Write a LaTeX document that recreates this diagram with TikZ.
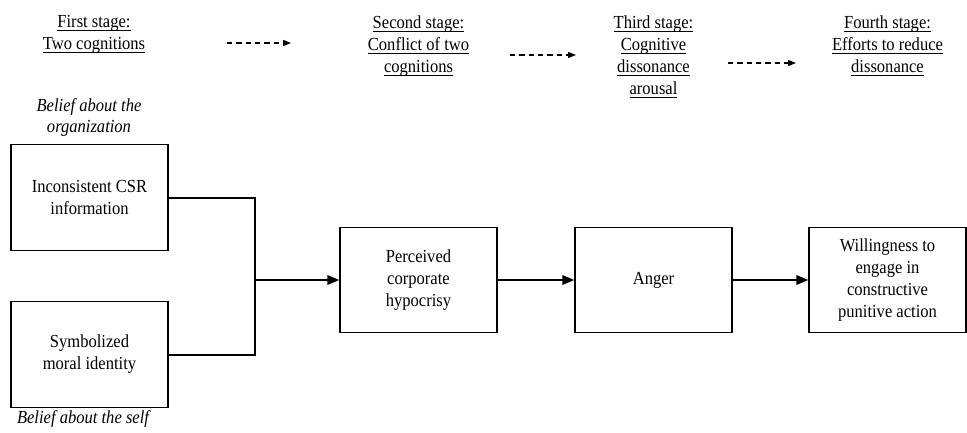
\documentclass[tikz,border=0pt]{standalone}
\usepackage{fontspec}
\setmainfont[FakeStretch=0.9]{Liberation Serif}
\usetikzlibrary{arrows.meta}

% underline at a fixed depth below the baseline
\newcommand{\uln}[1]{\setbox0\hbox{#1}\rlap{\rule[-2.6pt]{\wd0}{0.6pt}}\box0}

\begin{document}
\begin{tikzpicture}[x=0.75pt, y=-0.75pt, line join=miter,
    font=\fontsize{13.8}{16.5}\selectfont,
    box/.style={draw, line width=0.9pt, minimum width=117.75pt, minimum height=79pt,
        align=center, inner sep=2pt},
    stage/.style={anchor=north, align=center, inner sep=0pt},
    belief/.style={anchor=north, align=center, inner sep=0pt, font=\fontsize{13.8}{16}\selectfont\itshape},
    link/.style={line width=1.5pt, -{Triangle[length=9pt, width=7pt]}},
    flow/.style={line width=0.8pt, dash pattern=on 4pt off 3pt, -{Triangle[length=6pt, width=4.5pt]}}]
    \useasboundingbox (0,0) rectangle (967,432);

    % Stage headings
    \node[stage] (stageOne) at (94,15) {\uln{First stage:}\\ \uln{Two cognitions}};
    \node[stage] (stageTwo) at (418.5,15) {\uln{Second stage:}\\ \uln{Conflict of two}\\ \uln{cognitions}};
    \node[stage] (stageThree) at (653.5,15) {\uln{Third stage:}\\ \uln{Cognitive}\\ \uln{dissonance}\\ \uln{arousal}};
    \node[stage] (stageFour) at (887.5,15) {\uln{Fourth stage:}\\ \uln{Efforts to reduce}\\ \uln{dissonance}};

    % Dashed arrows between stages
    \coordinate (flowOneA) at (227,43);
    \coordinate (flowOneB) at (291,43);
    \coordinate (flowTwoA) at (510,55);
    \coordinate (flowTwoB) at (576,55);
    \coordinate (flowThreeA) at (728,63);
    \coordinate (flowThreeB) at (796,63);
    \draw[flow] (flowOneA) -- (flowOneB);
    \draw[flow] (flowTwoA) -- (flowTwoB);
    \draw[flow] (flowThreeA) -- (flowThreeB);

    % Boxes
    \node[box] (csrInfo) at (89.5,197.5) {Inconsistent CSR\\ information};
    \node[box] (moralId) at (89.5,354.5) {Symbolized\\ moral identity};
    \node[box] (hypocrisy) at (418.5,280) {Perceived\\ corporate\\ hypocrisy};
    \node[box] (anger) at (653.5,280) {Anger};
    \node[box] (punitive) at (887.5,280) {Willingness to\\ engage in\\ constructive\\ punitive action};

    % Belief labels
    \node[belief] (beliefOrg) at (89,98) {Belief about the\\ organization};
    \node[belief] (beliefSelf) at (83,410) {Belief about the self};

    % Connectors
    \coordinate (joinPt) at (255,280);
    \draw[line width=1.5pt] (csrInfo.east) -| (joinPt);
    \draw[line width=1.5pt] (moralId.east) -| (joinPt);
    \draw[link] (joinPt) -- (hypocrisy.west);
    \draw[link] (hypocrisy) -- (anger);
    \draw[link] (anger) -- (punitive);
\end{tikzpicture}
\end{document}
